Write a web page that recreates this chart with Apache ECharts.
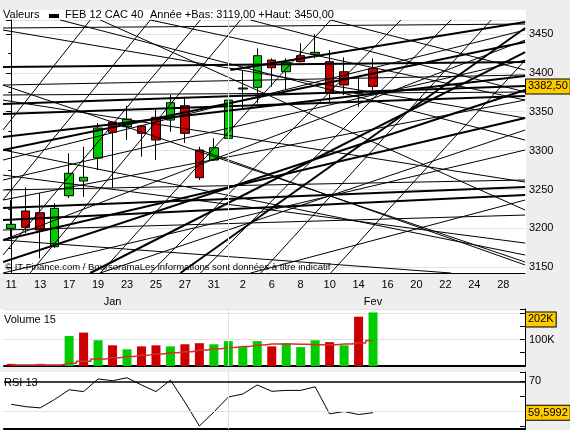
<!DOCTYPE html>
<html>
<head>
<meta charset="utf-8">
<title>FEB 12 CAC 40</title>
<script src="https://cdn.jsdelivr.net/npm/echarts@6/dist/echarts.min.js"></script>
<style>
  html, body { margin: 0; padding: 0; background: #eeeeee; }
  #chart { width: 570px; height: 430px; }
</style>
</head>
<body>
<div id="chart"></div>
<script>
// trading days, Jan 11 -> Feb 29 2012
var days = ['11','12','13','16','17','18','19','20','23','24','25','26','27','30','31',
  '1','2','3','6','7','8','9','10','13','14','15','16','17','20','21','22','23','24','27','28','29'];
var monthNames = ['Jan', 'Fev'];
var monthIdx = [7, 25];

var opens  = [3200.1,3222.4,3220.2,3176.5,3242.0,3260.9,3290.5,3336.8,3330.7,3331.6,3342.8,3339.3,3357.7,
  3300.8,3287.9,3315.8,3379.2,3381.4,3416.4,3401.4,3422.0,3423.8,3414.3,3401.4,3373.6,3405.8];
var closes = [3205.3,3201.4,3197.9,3225.8,3270.8,3265.7,3329.0,3323.5,3340.6,3322.2,3313.6,3361.6,3322.2,
  3265.2,3303.7,3365.0,3380.5,3422.0,3406.5,3413.5,3414.3,3426.3,3373.6,3384.3,3374.9,3382.5];
var lows   = [3189.3,3194.1,3161.6,3175.0,3239.1,3240.7,3275.0,3252.0,3313.6,3292.2,3288.0,3324.3,3309.8,
  3262.2,3286.6,3313.6,3354.4,3360.8,3382.1,3377.9,3413.5,3418.6,3362.8,3371.5,3356.4,3377.9];
var highs  = [3236.5,3252.8,3245.1,3232.3,3296.5,3305.0,3335.5,3337.0,3357.7,3332.0,3352.2,3371.5,3369.3,
  3305.0,3315.8,3377.9,3403.6,3431.5,3418.6,3418.6,3437.9,3450.0,3429.3,3419.9,3395.0,3418.6];

// volume in K
var volumes = [8,0,8,0,113,126,97,78,63,74,78,74,82,86,82,94,74,94,74,86,71,97,90,78,186,202];
var volumeMa = [4,4,4,4,10,18,26,31,36,41,45,50,54,60,65,70,74,79,83,83,82,80,80,83,87,96];

var rsi = [62.4,61.6,61.2,64.0,67.2,66.6,70.8,70.2,71.2,68.8,66.6,70.4,63.1,55.2,59.8,64.8,65.8,
  68.8,66.7,67.0,67.0,68.2,59.2,60.0,59.0,59.5992];

// trend lines [x0, v0, x1, v1] in day index / price
var thickLines = [
  [-0.57,3407.5, 35.51,3413.9],
  [-0.57,3359.9, 35.51,3383.0],
  [-0.57,3347.0, 35.51,3370.2],
  [-0.57,3317.5, 35.51,3395.9],
  [-0.57,3226.2, 35.51,3253.2],
  [-0.57,3210.8, 35.51,3243.0],
  [-0.57,3156.8, 35.51,3377.9],
  [5.46,3142.7, 35.51,3426.7],
  [11.69,3142.7, 35.51,3457.6],
  [-0.57,3185.1, 35.51,3341.9],
  [15.15,3403.6, 35.51,3465.3],
  [-0.57,3300.8, 35.51,3439.6]
];
var thinLines = [
  [-0.57,3455.0, 35.51,3341.9],
  [3.38,3467.9, 35.51,3313.6],
  [9.61,3467.9, 35.51,3365.0],
  [16.54,3467.9, 35.51,3375.3],
  [-0.57,3384.3, 35.51,3156.8],
  [-0.57,3365.0, 35.51,3259.6],
  [-0.57,3300.8, 35.51,3165.8],
  [-0.57,3268.6, 35.51,3181.2],
  [13.07,3300.8, 35.51,3153.0],
  [-0.57,3185.1, 30.39,3142.7],
  [6.15,3467.9, 35.51,3223.6],
  [22.07,3467.9, 35.51,3403.6],
  [-0.57,3165.8, 13.07,3467.9],
  [1.30,3142.7, 15.84,3467.9],
  [6.15,3142.7, 22.07,3467.9],
  [9.61,3142.7, 26.93,3467.9],
  [13.07,3142.7, 30.39,3467.9],
  [-0.57,3236.5, 9.61,3467.9],
  [-0.57,3326.5, 5.46,3467.9],
  [17.23,3142.7, 33.16,3467.9],
  [22.07,3142.7, 35.51,3416.4],
  [-0.57,3185.1, 35.51,3442.1],
  [-0.57,3236.5, 35.51,3365.0],
  [-0.57,3262.2, 35.51,3416.4],
  [6.15,3142.7, 35.51,3326.5],
  [16.54,3142.7, 35.51,3236.5],
  [-0.57,3142.7, 35.51,3300.8],
  [-0.57,3287.9, 35.51,3455.0],
  [-0.57,3384.3, 35.51,3397.2],
  [-0.57,3371.5, 35.51,3375.3],
  [-0.57,3197.9, 35.51,3217.2],
  [-0.57,3249.4, 35.51,3262.2],
  [-0.57,3457.6, 35.51,3462.7]
];

var FONT = 'Liberation Sans, Arial, sans-serif';
var GREEN = '#00cc00', RED = '#cc0000', GRID = '#e2e2e2';
var CLEAR = 'rgba(0,0,0,0)';

var candleData = opens.map(function (o, i) { return [o, closes[i], lows[i], highs[i]]; });
var volData = volumes.map(function (v, i) {
  var up = i > 0 && closes[i] >= closes[i - 1];
  return { value: v, itemStyle: { color: up ? GREEN : RED } };
});
var monthLabels = days.map(function (d, i) {
  var k = monthIdx.indexOf(i);
  return k >= 0 ? monthNames[k] : '';
});
function toLines(arr) {
  return arr.map(function (l) { return { coords: [[l[0], l[1]], [l[2], l[3]]] }; });
}
function comma(v, n) { return v.toFixed(n).replace('.', ','); }
var lastClose = closes[closes.length - 1];
var lastVol = volumes[volumes.length - 1];
var lastRsi = rsi[rsi.length - 1];

function boxLabel(text, offset) {
  return {
    show: true, position: 'end', formatter: text, offset: offset || [0, 0],
    color: '#000', fontSize: 11, fontFamily: FONT,
    backgroundColor: '#ffcc00', borderColor: '#000', borderWidth: 1,
    padding: [2, 2, 1, 2], distance: 1
  };
}
function hiddenCat(grid) {
  return {
    type: 'category', gridIndex: grid, data: days, boundaryGap: true,
    axisLine: { lineStyle: { color: '#000', width: 2 } },
    axisTick: { show: false }, axisLabel: { show: false }, splitLine: { show: false }
  };
}

var chart = echarts.init(document.getElementById('chart'), null, { renderer: 'canvas' });
chart.setOption({
  animation: false,
  backgroundColor: '#eeeeee',
  textStyle: { fontFamily: FONT },
  grid: [
    { left: 4, top: 20, width: 521, height: 253 },
    { left: 4, top: 309, width: 521, height: 57 },
    { left: 4, top: 372, width: 521, height: 57 }
  ],
  graphic: [
    { type: 'rect', z: -10, shape: { x: 0, y: 10, width: 526, height: 263 }, style: { fill: '#fff' } },
    { type: 'rect', z: -10, shape: { x: 0, y: 309, width: 526, height: 57 }, style: { fill: '#fff' } },
    { type: 'rect', z: -10, shape: { x: 0, y: 372, width: 526, height: 57 }, style: { fill: '#fff' } },
    { type: 'text', z: 10, x: 3, y: 15, style: { text: 'Valeurs', font: '11px ' + FONT, fill: '#000', verticalAlign: 'middle' } },
    { type: 'rect', z: 10, shape: { x: 49, y: 14, width: 10, height: 4 }, style: { fill: '#000' } },
    { type: 'text', z: 10, x: 65, y: 15, style: { text: 'FEB 12 CAC 40', font: '11px ' + FONT, fill: '#000', verticalAlign: 'middle' } },
    { type: 'text', z: 10, x: 150, y: 15, style: { text: 'Année +Bas: 3119,00 +Haut: 3450,00', font: '11px ' + FONT, fill: '#000', verticalAlign: 'middle' } },
    { type: 'text', z: 10, x: 5, y: 267, style: { text: '© IT-Finance.com / BoursoramaLes informations sont données à titre indicatif', font: '9.5px ' + FONT, fill: '#000', verticalAlign: 'middle' } },
    { type: 'text', z: 10, x: 4, y: 320, style: { text: 'Volume 15', font: '11px ' + FONT, fill: '#000', verticalAlign: 'middle' } },
    { type: 'text', z: 10, x: 4, y: 383, style: { text: 'RSI 13', font: '11px ' + FONT, fill: '#000', verticalAlign: 'middle' } }
  ],
  xAxis: [
    {
      type: 'category', gridIndex: 0, data: days, boundaryGap: true,
      axisLine: { lineStyle: { color: '#000' } },
      axisTick: { interval: 0, alignWithLabel: true, length: 3, lineStyle: { color: '#000' } },
      axisLabel: { interval: 1, color: '#000', fontSize: 11, fontFamily: FONT, margin: 6 },
      splitLine: { show: false }
    },
    {
      type: 'category', gridIndex: 0, data: days, position: 'bottom', offset: 17,
      axisLine: { show: false }, axisTick: { show: false },
      axisLabel: { interval: 0, color: '#000', fontSize: 11, fontFamily: FONT, margin: 6,
        formatter: function (v, i) { return monthLabels[i]; } }
    },
    { type: 'value', gridIndex: 0, min: -0.5, max: 35.5, show: false },
    hiddenCat(1),
    hiddenCat(2)
  ],
  yAxis: [
    {
      type: 'value', gridIndex: 0, position: 'right', min: 3142.7, max: 3467.9, splitNumber: 6,
      axisLine: { show: true, lineStyle: { color: '#000' } },
      axisTick: { show: true, inside: true, length: 5, lineStyle: { color: '#000' } },
      minorTick: { show: true, splitNumber: 2, length: 3, lineStyle: { color: '#000' } },
      axisLabel: { color: '#000', fontSize: 11, fontFamily: FONT, margin: 4,
        formatter: function (v) { return Math.abs(v % 50) < 0.01 ? String(v) : ''; } },
      splitLine: { show: true, lineStyle: { color: GRID } }
    },
    {
      type: 'value', gridIndex: 1, position: 'right', min: 0, max: 215, interval: 100,
      axisLine: { show: true, lineStyle: { color: '#000' } },
      axisTick: { show: true, inside: true, length: 5, lineStyle: { color: '#000' } },
      minorTick: { show: true, splitNumber: 2, length: 5, lineStyle: { color: '#000' } },
      axisLabel: { color: '#000', fontSize: 11, fontFamily: FONT, margin: 4,
        formatter: function (v) { return v === 100 ? '100K' : ''; } },
      splitLine: { show: true, lineStyle: { color: GRID } }
    },
    {
      type: 'value', gridIndex: 2, position: 'right', min: 54.2, max: 73.1, splitNumber: 4,
      axisLine: { show: true, lineStyle: { color: '#000' } },
      axisTick: { show: true, inside: true, length: 5, lineStyle: { color: '#000' } },
      axisLabel: { color: '#000', fontSize: 11, fontFamily: FONT, margin: 4,
        formatter: function (v) { return Math.abs(v - 70) < 0.01 ? '70' : ''; } },
      splitLine: { show: false }
    }
  ],
  series: [
    {
      type: 'line', xAxisIndex: 2, yAxisIndex: 0, data: [], silent: true,
      markLine: { symbol: 'none', silent: true, label: { show: false },
        lineStyle: { color: GRID, type: 'solid', width: 1 }, data: [{ xAxis: 15 }] }
    },
    {
      type: 'candlestick', xAxisIndex: 0, yAxisIndex: 0, data: candleData, barWidth: 9, z: 2,
      itemStyle: { color: GREEN, color0: RED, borderColor: '#000', borderColor0: '#000', borderWidth: 1 }
    },
    {
      type: 'lines', coordinateSystem: 'cartesian2d', xAxisIndex: 2, yAxisIndex: 0, z: 3,
      silent: true, clip: true, data: toLines(thinLines),
      lineStyle: { color: '#000', width: 1, opacity: 1 }
    },
    {
      type: 'lines', coordinateSystem: 'cartesian2d', xAxisIndex: 2, yAxisIndex: 0, z: 3,
      silent: true, clip: true, data: toLines(thickLines),
      lineStyle: { color: '#000', width: 2, opacity: 1 }
    },
    {
      type: 'line', xAxisIndex: 2, yAxisIndex: 0, data: [], silent: true, z: 8,
      markLine: { symbol: 'none', silent: true,
        data: [{ yAxis: lastClose, lineStyle: { color: CLEAR, width: 1 }, label: boxLabel(comma(lastClose, 2)) }] }
    },
    {
      type: 'bar', xAxisIndex: 3, yAxisIndex: 1, data: volData, barWidth: 9,
      markLine: { symbol: 'none', silent: true,
        data: [
          { xAxis: 15, lineStyle: { color: GRID, type: 'solid', width: 1 }, label: { show: false } },
          { yAxis: lastVol, lineStyle: { color: CLEAR, width: 1 }, label: boxLabel(lastVol + 'K', [0, 7]) }
        ] }
    },
    {
      type: 'line', xAxisIndex: 3, yAxisIndex: 1, data: volumeMa, step: 'middle',
      symbol: 'none', lineStyle: { color: '#d03030', width: 1.5 }, z: 4
    },
    {
      type: 'line', xAxisIndex: 4, yAxisIndex: 2, data: rsi, symbol: 'none',
      lineStyle: { color: '#000', width: 1 },
      markLine: { symbol: 'none', silent: true,
        data: [
          { xAxis: 15, lineStyle: { color: GRID, type: 'solid', width: 1 }, label: { show: false } },
          { yAxis: 60, lineStyle: { color: GRID, type: 'solid', width: 1 }, label: { show: false } },
          { yAxis: 70, lineStyle: { color: '#000', type: 'solid', width: 1.5 }, label: { show: false } },
          { yAxis: lastRsi, lineStyle: { color: CLEAR, width: 1 }, label: boxLabel(comma(lastRsi, 4)) }
        ] }
    }
  ]
});
</script>
</body>
</html>
